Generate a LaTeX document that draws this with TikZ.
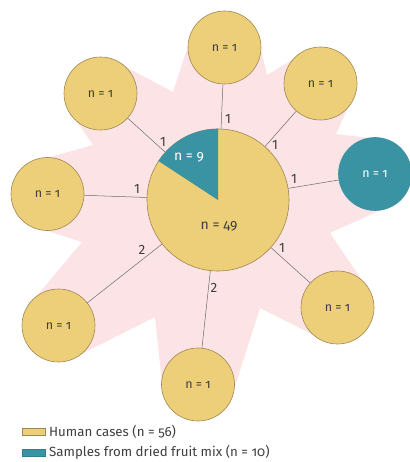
\documentclass[tikz,border=0pt]{standalone}
\usepackage{fontspec}
\setmainfont{Fira Sans}[Numbers=OldStyle]
\newfontfamily\lining{Fira Sans}[Numbers=Lining]
\definecolor{pinkbg}{HTML}{FCE3E6}
\definecolor{gold}{HTML}{ECCF78}
\definecolor{goldline}{HTML}{9E8652}
\definecolor{tealc}{HTML}{3A93A3}
\definecolor{tealline}{HTML}{2F7F8E}
\definecolor{txt}{HTML}{3E3E3E}
\definecolor{conn}{HTML}{6A6A6A}
\tikzset{
  small/.style={circle, minimum size=73pt, inner sep=0pt, fill=gold, draw=goldline, line width=0.6pt, text=txt, font=\fontsize{12.5}{14}\selectfont},
  smallteal/.style={small, fill=tealc, draw=tealc, text=white},
  big/.style={circle, minimum size=142pt, inner sep=0pt, fill=gold, draw=goldline, line width=0.6pt},
  conline/.style={draw=conn, line width=0.5pt},
  elabel/.style={text=txt, inner sep=0pt, font=\lining\fontsize{13.5}{15}\selectfont},
  ntext/.style={inner sep=0pt, font=\fontsize{14}{16}\selectfont},
  legtext/.style={anchor=west, inner sep=0pt, text=txt, font=\fontsize{13.3}{15}\selectfont}
}
\begin{document}
\begin{tikzpicture}[x=1pt,y=-1pt]
\useasboundingbox (0,0) rectangle (409,462);
% pink star background
\fill[pinkbg] (93,145) -- (76,120.5) -- (125,66.5) -- (173,92)
  -- (188,46) -- (261,49) -- (267,75)
  -- (293,59.4) -- (348,107.6) -- (336,134)
  -- (369,138) -- (381,210) -- (330,233)
  -- (361.9,280.3) -- (313.1,334.7) -- (260,308)
  -- (234.3,388.4) -- (161.7,380.6) -- (155,317)
  -- (81,354.2) -- (36,296.8) -- (82,242)
  -- (46.2,230.5) -- (48.8,157.5) -- cycle;
% centre
\node[big] (c) at (218,200) {};
% small circles
\node[small] (tl) at (100.5,93.5) {n = 1};
\node[small] (t) at (224.5,47.5) {n = 1};
\node[small] (tr) at (320.5,83.5) {n = 1};
\node[smallteal] (r) at (375,174) {n = 1};
\node[small] (lr) at (337.5,307.5) {n = 1};
\node[small] (b) at (198,384.5) {n = 1};
\node[small] (ll) at (58.5,325.5) {n = 1};
\node[small] (l) at (47.5,194) {n = 1};
% connectors
\foreach \s in {tl,t,tr,r,lr,b,ll,l} \draw[conline] (\s) -- (c);
% teal wedge
\fill[tealc] (c.center) -- (c.north) arc[start angle=270, end angle=213, radius=71] -- cycle;
\node[ntext, text=white] (n9) at (189,157) {n = 9};
\node[ntext, text=txt] (n49) at (219,226) {n = 49};
% edge labels
\node[elabel] (etl) at (163,142) {1};
\node[elabel] (et) at (228,119) {1};
\node[elabel] (etr) at (275,145) {1};
\node[elabel] (er) at (294,179) {1};
\node[elabel] (elr) at (282,248) {1};
\node[elabel] (eb) at (214,288) {2};
\node[elabel] (ell) at (142,250) {2};
\node[elabel] (el) at (137,189) {1};
% legend
\draw[fill=gold, draw=goldline, line width=0.6pt] (22.5,428) rectangle (45,435);
\node[legtext] (lg1) at (49,431.5) {Human cases (n = 56)};
\draw[fill=tealc, draw=tealline, line width=0.6pt] (22.5,449) rectangle (45,456);
\node[legtext] (lg2) at (49,452.5) {Samples from dried fruit mix (n = 10)};
\end{tikzpicture}
\end{document}
